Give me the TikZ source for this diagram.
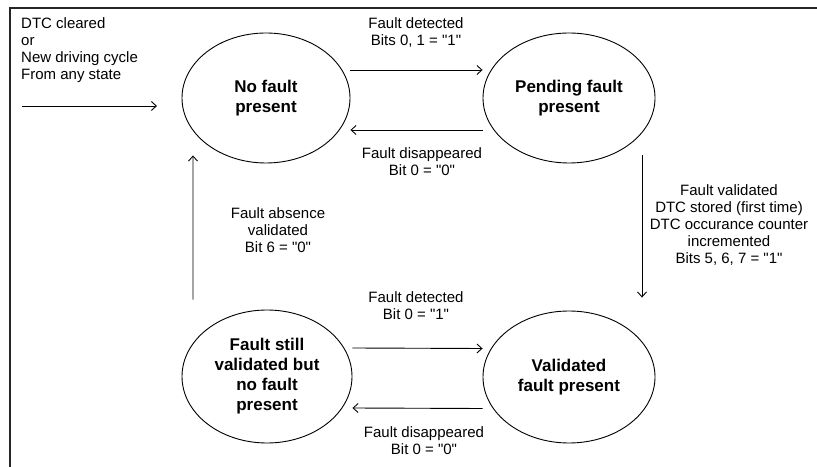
\documentclass[tikz,border=0pt]{standalone}
\usepackage{fontspec}
\setmainfont{Liberation Sans}[Ligatures=TeXOff]
\usetikzlibrary{shapes.geometric,arrows.meta,calc}
\tikzset{
  state/.style={draw=black, line width=0.9bp, ellipse, inner sep=0pt,
    align=center, font=\fontsize{17bp}{20bp}\selectfont\bfseries},
  lbl/.style={inner sep=0pt, align=center, anchor=north,
    font=\fontsize{15bp}{17bp}\selectfont},
  arr/.style={draw=black, line width=0.9bp, -{Straight Barb[length=5bp,width=9bp]}},
  frame/.style={draw=black!85, line width=1.6bp}
}
\begin{document}
\begin{tikzpicture}[x=1bp,y=-1bp]
\useasboundingbox (0,0) rectangle (817,467);
\draw[frame] (10,468) -- (10,8) -- (818,8);

\node[state, minimum width=168bp, minimum height=130bp] (A) at (266,98) {No fault\\present};
\node[state, minimum width=172bp, minimum height=130bp] (B) at (569,98) {Pending fault\\present};
\node[state, minimum width=170bp, minimum height=133bp] (C) at (267,376.5) {Fault still\\validated but\\no fault\\present};
\node[state, minimum width=172bp, minimum height=132bp] (D) at (569,377) {Validated\\fault present};

% entry arrow
\coordinate (s0) at (22,106);
\coordinate (t0) at (157,106);
\draw[arr] (s0) -- (t0);
\node[inner sep=0pt, anchor=north west, align=left, font=\fontsize{15bp}{17bp}\selectfont] (L0) at (21,17.5)
  {DTC cleared\\or\\New driving cycle\\From any state};

% transitions
\draw[arr] ([yshift=28bp]A.east) -- ([yshift=28bp]B.west);
\draw[arr] ([yshift=-32bp]B.west) -- ([yshift=-32bp]A.east);
\draw[arr] ([xshift=73bp,yshift=8bp]B.south) -- ([xshift=73bp,yshift=13bp]D.north);
\draw[arr] ([xshift=-74bp,yshift=10bp]C.north) -- ([xshift=-73bp,yshift=8bp]A.south);
\draw[arr] ([yshift=28.5bp]C.east) -- ([yshift=28.5bp]D.west);
\draw[arr] ([yshift=-31.5bp]D.west) -- ([yshift=-31.5bp]C.east);

% labels
\node[lbl] (L1) at (416,17) {Fault detected\\Bits 0, 1 = "1"};
\node[lbl] (L2) at (422,147.5) {Fault disappeared\\Bit 0 = "0"};
\node[lbl] (L3) at (416,291.5) {Fault detected\\Bit 0 = "1"};
\node[lbl] (L4) at (424,426.5) {Fault disappeared\\Bit 0 = "0"};
\node[lbl] (L5) at (278,207.5) {Fault absence\\validated\\Bit 6 = "0"};
\node[lbl] (L6) at (729,184.5) {Fault validated\\DTC stored (first time)\\DTC occurance counter\\incremented\\Bits 5, 6, 7 = "1"};
\end{tikzpicture}
\end{document}
